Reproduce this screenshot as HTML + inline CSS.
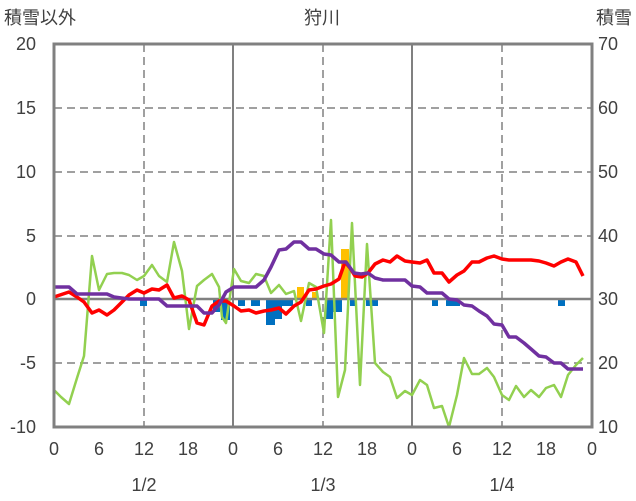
<!DOCTYPE html><html><head><meta charset="utf-8"><style>body{margin:0;background:#fff}svg{display:block}text{font-family:"Liberation Sans","Noto Sans CJK JP",sans-serif;fill:#404040}</style></head><body>
<svg width="636" height="501" viewBox="0 0 636 501">
<g font-size="18">
<text x="4" y="24">積雪以外</text><text x="322" y="24" text-anchor="middle">狩川</text><text x="632" y="24" text-anchor="end">積雪</text>
</g>
<g font-size="18" text-anchor="end">
<text x="36" y="50">20</text><text x="36" y="114">15</text><text x="36" y="178">10</text><text x="36" y="242">5</text><text x="36" y="305">0</text><text x="36" y="369">-5</text><text x="36" y="433">-10</text>
</g>
<g font-size="18">
<text x="598" y="50">70</text><text x="598" y="114">60</text><text x="598" y="178">50</text><text x="598" y="242">40</text><text x="598" y="305">30</text><text x="598" y="369">20</text><text x="598" y="433">10</text>
</g>
<g font-size="18" text-anchor="middle">
<text x="54" y="455">0</text><text x="99" y="455">6</text><text x="144" y="455">12</text><text x="188" y="455">18</text><text x="233" y="455">0</text><text x="278" y="455">6</text><text x="323" y="455">12</text><text x="367" y="455">18</text><text x="412" y="455">0</text><text x="457" y="455">6</text><text x="502" y="455">12</text><text x="546" y="455">18</text><text x="592" y="455">0</text>
<text x="144" y="491">1/2</text><text x="323" y="491">1/3</text><text x="502" y="491">1/4</text>
</g>
<g stroke="#808080" stroke-width="1.5" stroke-dasharray="8,5" fill="none">
<line x1="54" y1="108" x2="592" y2="108"/><line x1="54" y1="172" x2="592" y2="172"/><line x1="54" y1="236" x2="592" y2="236"/><line x1="54" y1="363" x2="592" y2="363"/>
<line x1="144" y1="44" x2="144" y2="427"/><line x1="323" y1="44" x2="323" y2="427"/><line x1="502" y1="44" x2="502" y2="427"/>
</g>
<g stroke="#808080" stroke-width="2">
<line x1="233" y1="44" x2="233" y2="427"/><line x1="412" y1="44" x2="412" y2="427"/>
</g>
<g fill="#0070c0">
<rect x="140" y="299" width="7" height="7"/><rect x="213" y="299" width="7" height="13"/><rect x="221" y="299" width="9" height="21"/><rect x="238" y="299" width="7" height="7"/><rect x="251" y="299" width="9" height="7"/><rect x="266" y="299" width="9" height="26"/><rect x="275" y="299" width="7" height="20"/><rect x="282" y="299" width="11" height="7"/><rect x="306" y="299" width="6" height="7"/><rect x="326" y="299" width="7" height="20"/><rect x="333" y="299" width="9" height="13"/><rect x="350" y="299" width="5" height="7"/><rect x="366" y="299" width="12" height="7"/><rect x="432" y="299" width="6" height="7"/><rect x="446" y="299" width="14" height="7"/><rect x="558" y="299" width="7" height="7"/>
</g>
<g fill="#ffc000">
<rect x="297" y="287" width="7" height="12"/><rect x="312" y="292" width="5" height="7"/><rect x="341" y="249" width="8" height="50"/>
</g>
<line x1="54" y1="299" x2="592" y2="299" stroke="#808080" stroke-width="2.5"/>
<polyline fill="none" stroke="#92d050" stroke-width="2.5" stroke-linejoin="round" points="54,390 61,397 69,404 77,378 84,356 92,256 99,290 107,274 114,273 122,273 129,275 137,280 144,276 152,265 159,276 167,282 174,242 182,271 189,329 197,286 204,280 212,274 219,287 222,317 226,323 234,269 241,281 249,283 256,274 264,276 271,293 279,285 286,294 294,291 301,321 309,283 316,287 324,333 331,220 338,397 345,370 352,223 360,385 367,244 375,363 383,372 390,377 397,398 405,391 412,395 420,380 427,385 434,408 442,406 449,427 457,395 464,358 472,374 479,374 487,368 494,377 502,395 509,400 516,386 524,397 531,390 539,397 546,388 554,385 561,397 568,375 576,365 583,358"/>
<polyline fill="none" stroke="#ff0000" stroke-width="3.5" stroke-linejoin="round" points="54,297 69,292 77,297 84,302 92,313 99,310 107,315 114,310 122,302 129,295 137,290 144,293 152,289 159,290 167,285 174,298 182,296 189,300 197,323 204,325 212,306 219,301 226,301 234,306 241,311 249,310 256,313 264,311 271,310 279,308 286,314 294,306 301,302 309,290 316,289 324,286 331,284 339,279 345,262 350,268 355,276 362,277 368,273 375,264 383,260 390,262 397,256 405,261 412,262 420,263 427,260 434,273 442,273 449,282 457,275 464,271 472,262 479,262 487,258 494,256 502,259 509,260 516,260 524,260 531,260 539,261 546,263 554,266 561,262 568,259 576,262 583,276"/>
<polyline fill="none" stroke="#7030a0" stroke-width="3.5" stroke-linejoin="round" points="54,287 69,287 77,294 107,294 114,297 129,299 159,299 167,306 197,306 204,313 212,313 219,305 226,292 234,287 256,287 264,280 271,267 279,250 286,249 294,242 301,242 309,249 316,249 324,254 331,255 339,262 346,262 354,273 361,274 368,273 375,278 383,280 405,280 412,286 420,287 427,293 442,293 449,299 457,300 464,305 472,306 479,311 487,316 494,324 502,325 509,337 516,337 524,343 531,349 539,356 546,357 554,363 561,363 568,369 583,369"/>
<rect x="54" y="44" width="538" height="383" fill="none" stroke="#808080" stroke-width="3"/>
</svg></body></html>
